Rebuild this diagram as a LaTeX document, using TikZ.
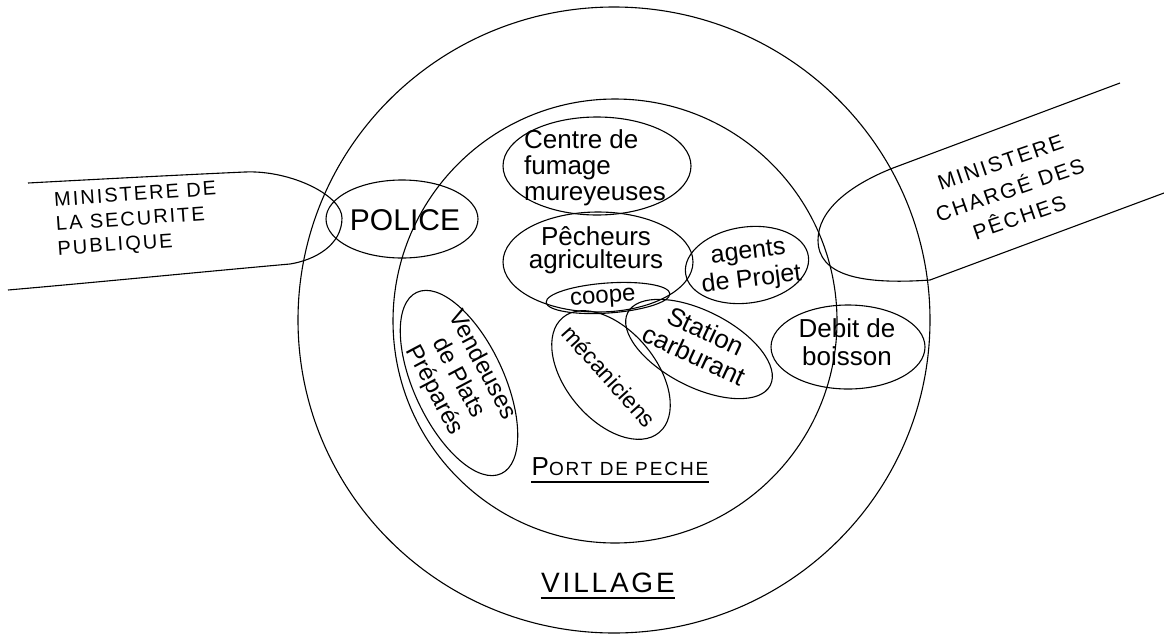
\documentclass[tikz,border=0pt]{standalone}
\usepackage{fontspec}
\setmainfont{Liberation Sans}
\newfontfamily\hand{Liberation Sans}
\newfontfamily\capsf[LetterSpace=10]{Liberation Sans}
\begin{document}
\begin{tikzpicture}[x=1pt,y=-1pt,line width=1.1pt,
  txt/.style={inner sep=0pt,align=center},
  handtxt/.style={txt,font=\hand\fontsize{#1}{#1}\selectfont},
  ulined/.style={line width=1.2pt}]
\useasboundingbox (0,0) rectangle (1164,635);
\fill[white] (0,0) rectangle (1164,635);

% Village and port circles
\draw (614,320) ellipse [x radius=316, y radius=313];
\draw (615,321) circle [radius=222];

% ministry bands
\draw (28,183) .. controls (120,178) and (200,174) .. (245,172)
  .. controls (290,170) and (342,195) .. (342,218)
  .. controls (342,245) and (315,260) .. (290,264)
  .. controls (200,272) and (100,282) .. (8,290);
\draw (1120,83) -- (893,168) .. controls (850,185) and (818,210) .. (818,240)
  .. controls (818,275) and (860,285) .. (930,280) -- (1164,193);

% actor ellipses
\draw (402,219) ellipse [x radius=76, y radius=39];
\draw (597,166) ellipse [x radius=94, y radius=49];
\draw (598,262) ellipse [x radius=95, y radius=50];
\draw[rotate around={4:(608,298)}] (608,298) ellipse [x radius=62, y radius=15];
\draw[rotate around={8:(747,265)}] (747,265) ellipse [x radius=62, y radius=38];
\draw[rotate around={-27:(699,349)}] (699,349) ellipse [x radius=80, y radius=38];
\draw[rotate around={-50:(611,375)}] (611,375) ellipse [x radius=75, y radius=45];
\draw[rotate around={-65:(459,383)}] (459,383) ellipse [x radius=100, y radius=45];
\draw (848,347) ellipse [x radius=77, y radius=42];

% texts
\node[txt,font=\capsf\fontsize{20}{24.5}\selectfont,align=left,rotate=4] (minsec) at (137,220) {MINISTERE DE\\LA SECURITE\\PUBLIQUE};
\node[txt,font=\capsf\fontsize{21}{29}\selectfont,rotate=19] (minpec) at (1010,190) {MINISTERE\\CHARGÉ DES\\PÊCHES};
\node[handtxt=30] (police) at (405,220) {POLICE};
\node[txt,font=\hand\fontsize{26}{26}\selectfont,align=left] (fumage) at (595,168) {Centre de\\fumage\\mureyeuses};
\node[txt,font=\hand\fontsize{26}{23}\selectfont] (pecheurs) at (596,250) {Pêcheurs\\agriculteurs};
\node[handtxt=24,rotate=4] (coope) at (603,299) {coope};
\node[txt,font=\hand\fontsize{25}{28}\selectfont,rotate=7] (agents) at (750,267) {agents\\de Projet};
\node[txt,font=\hand\fontsize{26}{27}\selectfont,rotate=-25] (station) at (700,343) {Station\\carburant};
\node[handtxt=23,rotate=-48] (meca) at (609,376) {mécaniciens};
\node[txt,font=\hand\fontsize{24}{27}\selectfont,rotate=-62] (vendeuses) at (458,378) {Vendeuses\\de Plats\\Préparés};
\node[txt,font=\hand\fontsize{26}{28}\selectfont] (debit) at (847,342) {Debit de\\boisson};
\node[txt,font=\capsf\fontsize{19}{20}\selectfont,anchor=base] (port) at (620,475) {{\fontsize{26}{26}\selectfont P}ORT DE PECHE};
\draw[ulined] ([yshift=-7pt]port.base west) -- ([yshift=-7pt]port.base east);
\node[txt,font=\capsf\fontsize{28}{30}\selectfont,anchor=base] (village) at (608,592) {VILLAGE};
\draw[ulined] ([yshift=-6pt]village.base west) -- ([yshift=-6pt]village.base east);
\end{tikzpicture}
\end{document}
